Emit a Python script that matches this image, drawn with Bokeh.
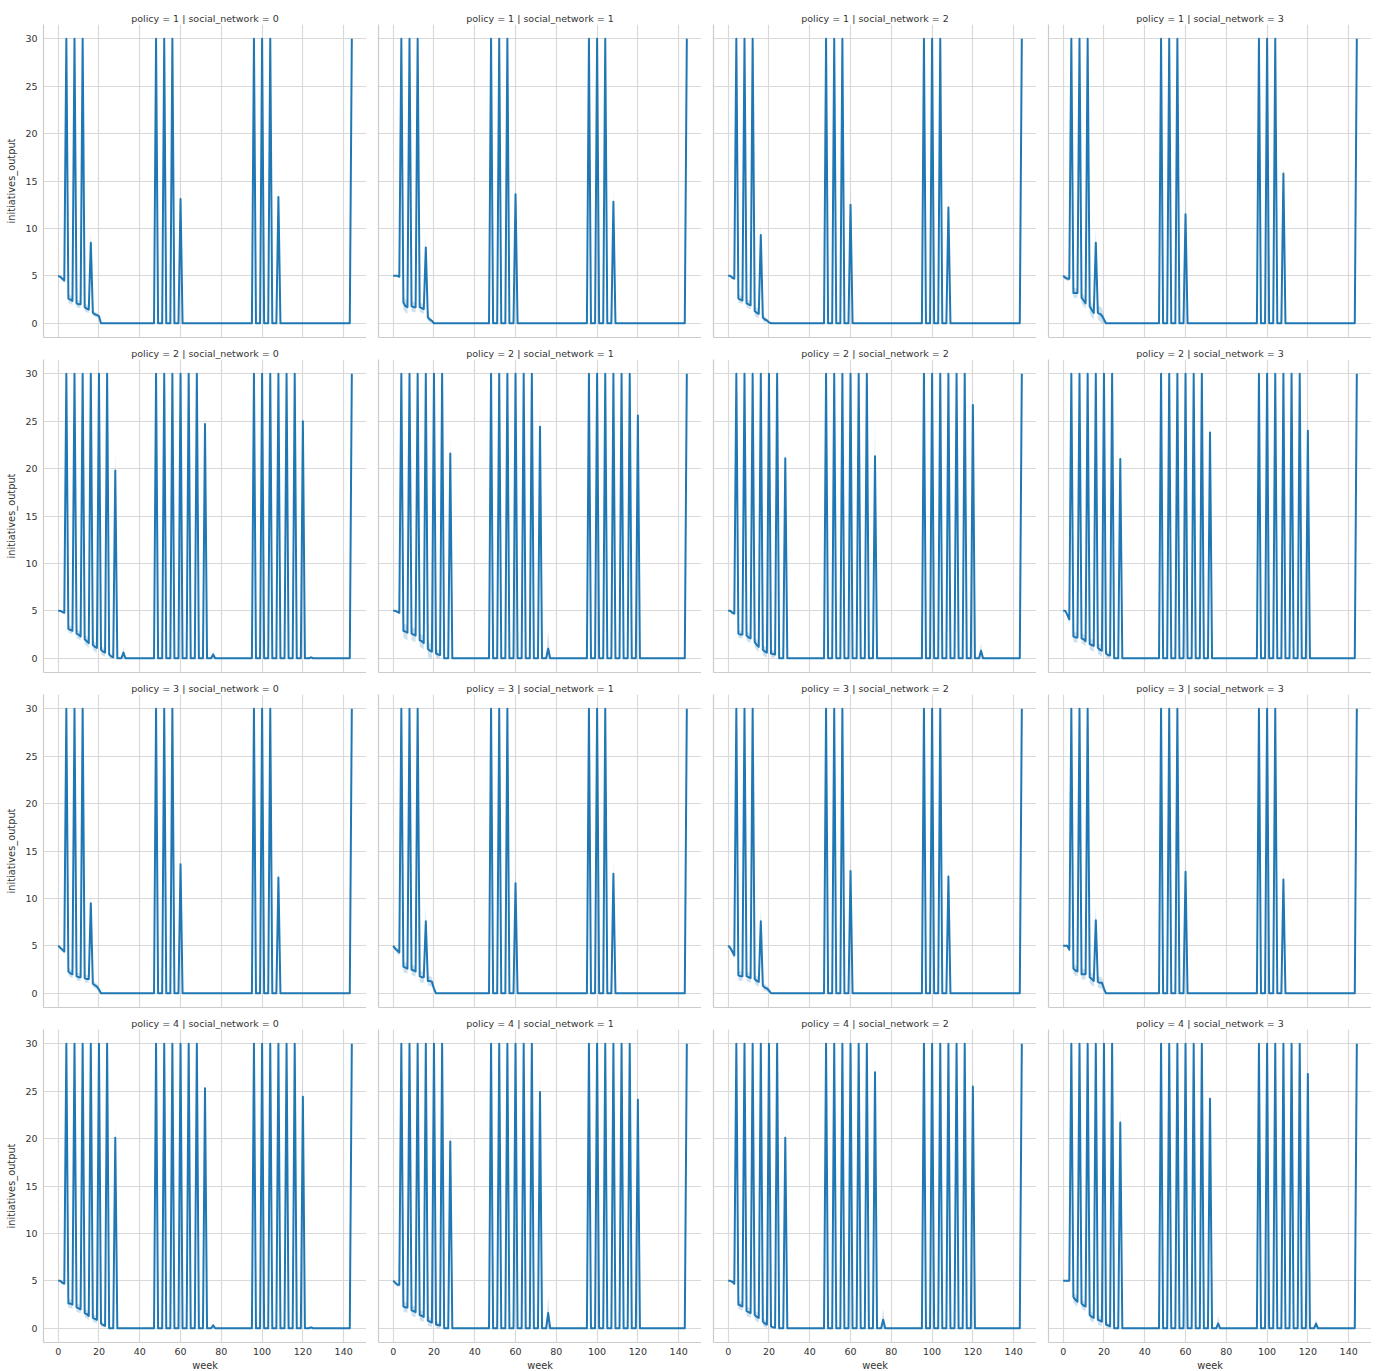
from bokeh.plotting import figure
from bokeh.layouts import gridplot
from bokeh.models import Range1d, FixedTicker
from bokeh.embed import file_html
from bokeh.resources import INLINE

# ---------------- data ----------------
WEEKS = list(range(0, 145))
POLICIES = [1, 2, 3, 4]
SOCIAL_NETWORKS = [0, 1, 2, 3]
X_TICKS = [0, 20, 40, 60, 80, 100, 120, 140]
Y_TICKS = [0, 5, 10, 15, 20, 25, 30]
CEILING = 30.0

# weeks where the mean output reaches the 30 ceiling
FULL_WEEKS_P1 = [4, 8, 12, 48, 52, 56, 96, 100, 104, 144]
FULL_WEEKS_P2 = [4, 8, 12, 16, 20, 24, 48, 52, 56, 60, 64, 68, 96, 100, 104, 108, 112, 116, 144]
FULL_WEEKS_P3 = [4, 8, 12, 48, 52, 56, 96, 100, 104, 144]
FULL_WEEKS_P4 = [4, 8, 12, 16, 20, 24, 48, 52, 56, 60, 64, 68, 96, 100, 104, 108, 112, 116, 144]

# other non-zero weeks: (week, mean, CI half-width); unlisted weeks are 0
P1_SN0 = [(0, 5.0, .05), (1, 4.9, .1), (2, 4.7, .2), (3, 4.5, .25),
          (5, 2.6, .45), (6, 2.5, .45), (7, 2.35, .45),
          (9, 2.1, .4), (10, 2.0, .4), (11, 2.0, .4),
          (13, 1.7, .4), (14, 1.55, .4), (15, 1.45, .4),
          (16, 8.5, 1.2), (17, 1.1, .3), (18, .95, .25), (19, .85, .25), (20, .75, .2),
          (60, 13.1, 1.4), (108, 13.3, 1.3)]
P1_SN1 = [(0, 5.0, .05), (1, 5.0, .05), (2, 5.0, .05), (3, 4.9, .1),
          (5, 2.2, .7), (6, 1.8, .7), (7, 1.7, .7),
          (9, 1.8, .55), (10, 1.7, .55), (11, 1.7, .55),
          (13, 1.7, .5), (14, 1.6, .5), (15, 1.5, .5),
          (16, 8.0, 1.3), (17, .6, .35), (18, .4, .3), (19, .25, .2),
          (60, 13.6, 1.5), (108, 12.8, 1.5)]
P1_SN2 = [(0, 5.0, .05), (1, 5.0, .05), (2, 4.8, .15), (3, 4.7, .2),
          (5, 2.6, .4), (6, 2.5, .4), (7, 2.4, .4),
          (9, 2.1, .45), (10, 2.0, .45), (11, 1.9, .45),
          (13, 1.3, .5), (14, 1.1, .5), (15, 1.0, .5),
          (16, 9.3, 1.3), (17, .6, .35), (18, .4, .3), (19, .3, .2), (20, .1, .1),
          (60, 12.5, 1.4), (108, 12.2, 1.4)]
P1_SN3 = [(0, 5.0, .05), (1, 4.8, .2), (2, 4.7, .25), (3, 4.7, .25),
          (5, 3.2, .5), (6, 3.2, .5), (7, 3.2, .5),
          (9, 2.7, .6), (10, 2.4, .6), (11, 2.1, .6),
          (13, 1.8, .75), (14, 1.4, .75), (15, 1.1, .75),
          (16, 8.5, 1.5), (17, 1.1, .7), (18, 1.0, .8), (19, .8, .8), (20, .4, .4),
          (60, 11.5, 1.9), (108, 15.8, 1.5)]

P2_SN0 = [(0, 5.0, .05), (1, 5.0, .05), (2, 4.9, .1), (3, 4.8, .15),
          (5, 3.1, .4), (6, 3.0, .4), (7, 2.9, .4),
          (9, 2.6, .45), (10, 2.5, .45), (11, 2.3, .45),
          (13, 2.0, .5), (14, 1.8, .5), (15, 1.6, .5),
          (17, 1.4, .5), (18, 1.2, .5), (19, 1.1, .5),
          (21, .9, .45), (22, .7, .45), (23, .6, .4),
          (25, .4, .3), (26, .2, .2), (27, .1, .1),
          (28, 19.8, 2.2), (32, .6, .6), (72, 24.7, 1.8), (76, .4, .4),
          (120, 25.0, 1.8), (124, .1, .1)]
P2_SN1 = [(0, 5.0, .05), (1, 5.0, .05), (2, 4.9, .1), (3, 4.8, .15),
          (5, 2.9, .7), (6, 2.8, .8), (7, 2.7, .8),
          (9, 2.6, .7), (10, 2.5, .7), (11, 2.4, .7),
          (13, 1.9, .7), (14, 1.8, .7), (15, 1.6, .7),
          (17, 1.0, .8), (18, .8, .8), (19, .7, .75),
          (21, .5, .6), (22, .4, .5), (23, .35, .45),
          (28, 21.6, 1.7), (72, 24.4, 3.5), (76, 1.0, 1.9), (120, 25.6, 3.0)]
P2_SN2 = [(0, 5.0, .05), (1, 5.0, .05), (2, 4.8, .15), (3, 4.7, .2),
          (5, 2.6, .4), (6, 2.5, .4), (7, 2.5, .4),
          (9, 2.4, .5), (10, 2.2, .5), (11, 2.1, .5),
          (13, 1.7, .55), (14, 1.4, .55), (15, 1.2, .55),
          (17, .9, .55), (18, .7, .55), (19, .6, .5),
          (21, .5, .4), (22, .45, .4), (23, .4, .35),
          (28, 21.1, 1.2), (72, 21.3, 4.0), (120, 26.7, 2.0), (124, .8, .8)]
P2_SN3 = [(0, 5.0, .05), (1, 5.0, .05), (2, 4.6, .3), (3, 4.1, .4),
          (5, 2.3, .55), (6, 2.2, .55), (7, 2.2, .55),
          (9, 2.1, .55), (10, 2.0, .55), (11, 1.8, .55),
          (13, 1.5, .6), (14, 1.4, .6), (15, 1.3, .6),
          (17, 1.1, .6), (18, .9, .6), (19, .8, .6),
          (21, .5, .45), (22, .35, .35), (23, .3, .3),
          (28, 21.0, 1.5), (72, 23.8, 1.8), (120, 24.0, 2.2)]

P3_SN0 = [(0, 5.0, .05), (1, 4.8, .15), (2, 4.6, .2), (3, 4.4, .25),
          (5, 2.3, .4), (6, 2.1, .4), (7, 2.0, .4),
          (9, 1.8, .4), (10, 1.7, .4), (11, 1.7, .4),
          (13, 1.6, .4), (14, 1.5, .4), (15, 1.5, .4),
          (16, 9.5, 1.4), (17, 1.0, .35), (18, .85, .3), (19, .7, .3), (20, .4, .25),
          (60, 13.6, 1.5), (108, 12.2, 1.4)]
P3_SN1 = [(0, 5.0, .05), (1, 4.7, .2), (2, 4.5, .3), (3, 4.3, .35),
          (5, 2.8, .55), (6, 2.7, .55), (7, 2.6, .55),
          (9, 2.5, .55), (10, 2.4, .55), (11, 2.3, .55),
          (13, 1.8, .6), (14, 1.7, .6), (15, 1.7, .6),
          (16, 7.6, 1.5), (17, 1.3, .5), (18, 1.3, .5), (19, 1.2, .5), (20, .5, .35),
          (60, 11.6, 1.5), (108, 12.6, 1.5)]
P3_SN2 = [(0, 5.0, .05), (1, 4.8, .2), (2, 4.4, .3), (3, 4.0, .4),
          (5, 1.9, .5), (6, 1.8, .5), (7, 1.8, .5),
          (9, 1.8, .5), (10, 1.7, .5), (11, 1.6, .5),
          (13, 1.5, .5), (14, 1.3, .5), (15, 1.2, .5),
          (16, 7.6, 1.4), (17, .8, .35), (18, .6, .35), (19, .5, .3), (20, .3, .25),
          (60, 12.9, 1.5), (108, 12.3, 1.5)]
P3_SN3 = [(0, 5.0, .05), (1, 5.0, .05), (2, 5.0, .15), (3, 4.6, .3),
          (5, 2.6, .55), (6, 2.4, .55), (7, 2.3, .55),
          (9, 2.0, .55), (10, 2.0, .55), (11, 2.0, .55),
          (13, 1.7, .65), (14, 1.5, .65), (15, 1.3, .65),
          (16, 7.7, 1.6), (17, 1.2, .6), (18, 1.1, .6), (19, 1.1, .6), (20, .5, .45),
          (60, 12.8, 1.5), (108, 12.0, 1.5)]

P4_SN0 = [(0, 5.0, .05), (1, 5.0, .05), (2, 4.8, .15), (3, 4.7, .2),
          (5, 2.6, .45), (6, 2.6, .45), (7, 2.5, .45),
          (9, 2.2, .45), (10, 2.1, .45), (11, 2.0, .45),
          (13, 1.6, .45), (14, 1.5, .45), (15, 1.3, .45),
          (17, 1.1, .4), (18, 1.0, .4), (19, .9, .4),
          (21, .5, .3), (22, .35, .25), (23, .25, .2),
          (28, 20.1, 1.8), (72, 25.3, 1.5), (76, .3, .25), (120, 24.4, 1.5), (124, .1, .1)]
P4_SN1 = [(0, 5.0, .05), (1, 4.8, .15), (2, 4.6, .2), (3, 4.6, .25),
          (5, 2.3, .55), (6, 2.2, .55), (7, 2.2, .55),
          (9, 1.9, .55), (10, 1.8, .55), (11, 1.7, .55),
          (13, 1.4, .55), (14, 1.3, .55), (15, 1.2, .55),
          (17, .8, .5), (18, .7, .5), (19, .6, .45),
          (21, .4, .35), (22, .35, .35), (23, .3, .3),
          (28, 19.7, 1.8), (72, 24.9, 3.0), (76, 1.6, 1.8), (120, 24.1, 2.4)]
P4_SN2 = [(0, 5.0, .05), (1, 5.0, .05), (2, 4.9, .15), (3, 4.7, .2),
          (5, 2.5, .45), (6, 2.4, .45), (7, 2.3, .45),
          (9, 1.8, .5), (10, 1.7, .5), (11, 1.6, .5),
          (13, 1.4, .5), (14, 1.2, .5), (15, 1.1, .5),
          (17, .7, .45), (18, .5, .4), (19, .4, .35),
          (21, .2, .2), (22, .1, .1), (23, .05, .05),
          (28, 20.1, 1.8), (72, 27.0, 2.2), (76, .9, 1.2), (120, 25.5, 1.8)]
P4_SN3 = [(0, 5.0, .05), (1, 5.0, .05), (2, 5.0, .05), (3, 5.0, .05),
          (5, 3.3, .55), (6, 3.0, .55), (7, 2.8, .55),
          (9, 2.6, .5), (10, 2.4, .5), (11, 2.3, .5),
          (13, 1.4, .5), (14, 1.2, .5), (15, 1.1, .5),
          (17, .9, .5), (18, .8, .5), (19, .7, .5),
          (21, .4, .35), (22, .3, .3), (23, .2, .2),
          (28, 21.7, 1.7), (72, 24.2, 1.8), (76, .5, .8), (120, 26.8, 1.6), (124, .5, .5)]

FULL_WEEKS = {1: FULL_WEEKS_P1, 2: FULL_WEEKS_P2, 3: FULL_WEEKS_P3, 4: FULL_WEEKS_P4}
PANELS = {
    (1, 0): P1_SN0, (1, 1): P1_SN1, (1, 2): P1_SN2, (1, 3): P1_SN3,
    (2, 0): P2_SN0, (2, 1): P2_SN1, (2, 2): P2_SN2, (2, 3): P2_SN3,
    (3, 0): P3_SN0, (3, 1): P3_SN1, (3, 2): P3_SN2, (3, 3): P3_SN3,
    (4, 0): P4_SN0, (4, 1): P4_SN1, (4, 2): P4_SN2, (4, 3): P4_SN3,
}

# ---------------- styling ----------------
BLUE = "#1f77b4"
GRID = "#d9d9d9"
SPINE = "#cccccc"
TEXT = "#333333"
FONT = "DejaVu Sans"
FS = "9.5px"
FRAME_W, FRAME_H = 323, 313


def series(policy, sn):
    mean = [0.0 for _ in WEEKS]
    lo = [0.0 for _ in WEEKS]
    hi = [0.0 for _ in WEEKS]
    for w in FULL_WEEKS[policy]:
        mean[w] = lo[w] = hi[w] = CEILING
    for w, m, h in PANELS[(policy, sn)]:
        mean[w] = m
        lo[w] = max(0.0, m - h)
        hi[w] = min(CEILING, m + h)
    return mean, lo, hi


rows = []
for r, pol in enumerate(POLICIES):
    row = []
    for c, sn in enumerate(SOCIAL_NETWORKS):
        fig = figure(
            frame_width=FRAME_W, frame_height=FRAME_H,
            x_range=Range1d(-7.2, 151.2), y_range=Range1d(-1.5, 31.5),
            output_backend="svg", toolbar_location=None,
            min_border_left=43 if c == 0 else 12, min_border_right=0,
            min_border_top=24 if r == 0 else 14,
            min_border_bottom=29 if r == 3 else 8,
            title=f"policy = {pol} | social_network = {sn}",
        )
        fig.title.align = "center"
        fig.title.text_font = FONT
        fig.title.text_font_size = FS
        fig.title.text_font_style = "normal"
        fig.title.text_color = TEXT
        fig.title.standoff = 1
        fig.outline_line_color = None
        fig.background_fill_color = "white"
        fig.border_fill_color = "white"

        fig.xgrid.ticker = FixedTicker(ticks=X_TICKS)
        fig.ygrid.ticker = FixedTicker(ticks=Y_TICKS)
        for g in (fig.xgrid, fig.ygrid):
            g.grid_line_color = GRID
            g.grid_line_width = 1.2

        fig.xaxis.ticker = FixedTicker(ticks=X_TICKS if r == 3 else [])
        fig.yaxis.ticker = FixedTicker(ticks=Y_TICKS if c == 0 else [])
        for ax in (fig.xaxis, fig.yaxis):
            ax.axis_line_color = SPINE
            ax.axis_line_width = 1.2
            ax.major_tick_line_color = None
            ax.minor_tick_line_color = None
            ax.major_tick_out = 0
            ax.major_tick_in = 0
            ax.minor_tick_out = 0
            ax.minor_tick_in = 0
            ax.major_label_text_font = FONT
            ax.major_label_text_font_size = FS
            ax.major_label_text_color = TEXT
            ax.axis_label_text_font = FONT
            ax.axis_label_text_font_size = "9.8px"
            ax.axis_label_text_font_style = "normal"
            ax.axis_label_text_color = TEXT
        fig.xaxis.major_label_standoff = 5
        fig.xaxis.axis_label_standoff = 2
        fig.yaxis.major_label_standoff = 6
        fig.yaxis.axis_label_standoff = 5
        if c == 0:
            fig.yaxis.axis_label = "initiatives_output"
        if r == 3:
            fig.xaxis.axis_label = "week"

        mean, lo, hi = series(pol, sn)
        fig.varea(x=WEEKS, y1=lo, y2=hi, fill_color=BLUE, fill_alpha=0.22)
        fig.line(x=WEEKS, y=mean, line_color=BLUE, line_width=2.0, line_join="round")
        row.append(fig)
    rows.append(row)

grid = gridplot(rows, toolbar_location=None)
open("out.html", "w").write(file_html(grid, INLINE))
